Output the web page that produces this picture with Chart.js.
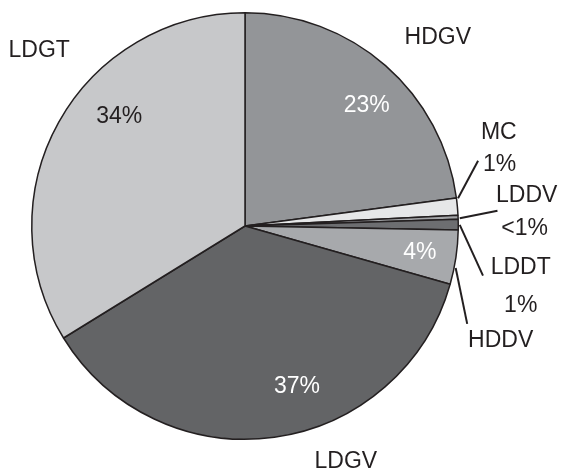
<!DOCTYPE html>
<html>
<head>
<meta charset="utf-8">
<script src="https://cdn.jsdelivr.net/npm/chart.js@4.4.1/dist/chart.umd.min.js"></script>
<style>
  html, body { margin: 0; padding: 0; background: #ffffff; }
  #wrap { width: 561px; height: 472px; position: relative; }
</style>
</head>
<body>
<div id="wrap"><canvas id="pie"></canvas></div>
<script>
// Vehicle class shares (percent), clockwise from 12 o'clock
const categories = ['HDGV', 'MC', 'LDDV', 'LDDT', 'HDDV', 'LDGV', 'LDGT'];
const shares = [22.9, 1.3, 0.3, 0.8, 4.1, 36.8, 33.8];

const sliceColors = ['#939598', '#e6e7e8', '#a3a4a7', '#6d6e71', '#a7a9ac', '#636466', '#c7c8ca'];

// Whole-percent text; shares that round to zero read "<1%"
function pctText(v) {
  const r = Math.round(v);
  return r < 1 ? '<1%' : r + '%';
}

// Placement of texts, as offsets from the pie centre in units of the radius
const insideLabels = {
  HDGV: { at: [0.571, -0.562], color: '#ffffff' },
  HDDV: { at: [0.820, 0.126], color: '#ffffff' },
  LDGV: { at: [0.244, 0.754], color: '#ffffff' },
  LDGT: { at: [-0.590, -0.515], color: '#231f20' }
};
const outsideNames = {
  HDGV: [0.904, -0.883],
  LDGT: [-0.965, -0.824],
  LDGV: [0.473, 1.105],
  MC: [1.190, -0.436],
  LDDV: [1.321, -0.141],
  LDDT: [1.293, 0.197],
  HDDV: [1.199, 0.539]
};
const outsideValues = {
  MC: [1.194, -0.290],
  LDDV: [1.311, 0.014],
  LDDT: [1.293, 0.375]
};
const leaders = {
  MC: [[0.999, -0.130], [1.093, -0.306]],
  LDDV: [[1.007, -0.036], [1.184, -0.072]],
  LDDT: [[1.007, -0.005], [1.116, 0.233]],
  HDDV: [[0.988, 0.197], [1.042, 0.459]]
};

const FONT = '23px "Liberation Sans", Arial, sans-serif';
const INK = '#231f20';

const sliceLabelPlugin = {
  id: 'sliceLabels',
  afterDatasetsDraw(chart) {
    const meta = chart.getDatasetMeta(0);
    const arc = meta.data[0];
    const cx = arc.x, cy = arc.y, R = arc.outerRadius;
    const P = (o) => [cx + o[0] * R, cy + o[1] * R];
    const ctx = chart.ctx;
    ctx.save();

    // leader lines
    ctx.strokeStyle = INK;
    ctx.lineWidth = 2;
    ctx.lineCap = 'butt';
    Object.keys(leaders).forEach((k) => {
      const a = P(leaders[k][0]), b = P(leaders[k][1]);
      ctx.beginPath();
      ctx.moveTo(a[0], a[1]);
      ctx.lineTo(b[0], b[1]);
      ctx.stroke();
    });

    ctx.font = FONT;
    ctx.textAlign = 'center';
    ctx.textBaseline = 'middle';

    categories.forEach((name, i) => {
      const v = shares[i];
      if (insideLabels[name]) {
        const p = P(insideLabels[name].at);
        ctx.fillStyle = insideLabels[name].color;
        ctx.fillText(pctText(v), p[0], p[1]);
      }
      if (outsideNames[name]) {
        const p = P(outsideNames[name]);
        ctx.fillStyle = INK;
        ctx.fillText(name, p[0], p[1]);
      }
      if (outsideValues[name]) {
        const p = P(outsideValues[name]);
        ctx.fillStyle = INK;
        ctx.fillText(pctText(v), p[0], p[1]);
      }
    });
    ctx.restore();
  }
};

new Chart(document.getElementById('pie'), {
  type: 'pie',
  data: {
    labels: categories,
    datasets: [{
      data: shares,
      backgroundColor: sliceColors,
      borderColor: INK,
      borderWidth: 1.5
    }]
  },
  options: {
    responsive: true,
    maintainAspectRatio: false,
    animation: false,
    rotation: 0,
    layout: { padding: { left: 31, right: 102, top: 12, bottom: 32 } },
    plugins: {
      legend: { display: false },
      tooltip: { enabled: false }
    }
  },
  plugins: [sliceLabelPlugin]
});
</script>
</body>
</html>
